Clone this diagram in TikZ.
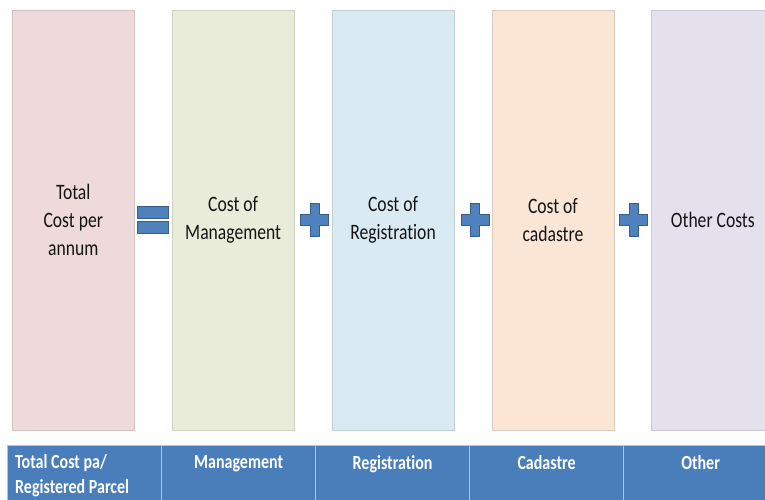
\documentclass[tikz,border=0pt]{standalone}
\usepackage{fontspec}
\setmainfont{Carlito}[FakeStretch=0.8, Ligatures=NoCommon]
\usetikzlibrary{positioning}
\definecolor{colpink}{HTML}{EEDADA}
\definecolor{colgreen}{HTML}{EAECDA}
\definecolor{colblue}{HTML}{DAEAF3}
\definecolor{colorange}{HTML}{FBE6D6}
\definecolor{colpurple}{HTML}{E4E0EC}
\definecolor{tabblue}{HTML}{4A7EBB}
\definecolor{opblue}{HTML}{4F81BD}
\definecolor{opline}{HTML}{385D8A}
\tikzset{
	costbox/.style={draw=#1!75!gray, fill=#1, minimum width=122.5pt, minimum height=420pt, inner sep=0pt, align=center, text=black!92, font=\fontsize{22}{28}\selectfont},
	tabcell/.style={draw=white!55!tabblue, fill=tabblue, line width=1.2pt, minimum width=154pt, minimum height=80pt, anchor=north west, inner sep=0pt},
	tabtext/.style={text=white, font=\fontsize{20}{25}\selectfont\bfseries, inner sep=0pt, anchor=north},
	opshape/.style={fill=opblue, draw=opline, line width=0.8pt, line join=round}
}
\begin{document}
\begin{tikzpicture}[x=1pt, y=-1pt]
			\clip (0,0) rectangle (765,499);
			% cost columns
			\node[costbox=colpink] (total) at (73.25,220) {Total\\Cost per\\annum};
			\node[costbox=colgreen, right=37pt of total] (manage) {Cost of\\Management};
			\node[costbox=colblue, right=37pt of manage] (regist) {Cost of\\Registration};
			\node[costbox=colorange, right=37pt of regist] (cadas) {Cost of\\cadastre};
			\node[costbox=colpurple, right=37pt of cadas] (other) {Other Costs};
			% equals and plus signs
			\foreach \y in {206,221}	\draw[opshape] (137,\y) rectangle (168,\y+12);
			\foreach \x in {314.5,475,633.5}
				\draw[opshape, shift={(\x,219.5)}] (-4.5,-16.5) -- (4.5,-16.5) -- (4.5,-5.5) -- (14,-5.5) -- (14,5.5) -- (4.5,5.5) -- (4.5,16.5) -- (-4.5,16.5) -- (-4.5,5.5) -- (-14,5.5) -- (-14,-5.5) -- (-4.5,-5.5) -- cycle;
			% table row
			\foreach \n/\x in {total/7, manage/161, regist/315, cadas/469, other/623}
				\node[tabcell] (c\n) at (\x,445) {};
			\node[tabtext, anchor=north west, align=left] (ttotal) at ([xshift=8pt,yshift=-9pt]ctotal.north west) {Total Cost pa/\\Registered Parcel};
			\foreach \n/\t in {manage/Management, regist/Registration, cadas/Cadastre, other/Other}
				\node[tabtext] (t\n) at ([yshift=-10pt]c\n.north) {\t};
		\end{tikzpicture}
\end{document}
